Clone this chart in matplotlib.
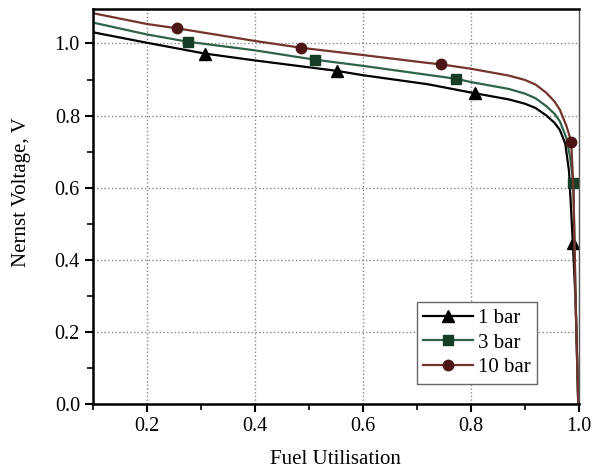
import matplotlib
matplotlib.use("Agg")
import matplotlib.pyplot as plt
from matplotlib.ticker import MultipleLocator

plt.rcParams["font.family"] = ["Liberation Serif", "DejaVu Serif"]

# Nernst voltage vs fuel utilisation
u_1bar = [0.10, 0.20, 0.307, 0.40, 0.552, 0.60, 0.72, 0.807, 0.87, 0.90, 0.92,
          0.94, 0.955, 0.965, 0.975, 0.982, 0.989, 0.994, 0.999]
v_1bar = [1.031, 1.002, 0.972, 0.953, 0.924, 0.912, 0.887, 0.862, 0.845, 0.833,
          0.821, 0.800, 0.780, 0.760, 0.722, 0.645, 0.447, 0.290, 0.0]
mark_1bar = [2, 4, 7, 16]

u_3bar = [0.10, 0.20, 0.275, 0.40, 0.511, 0.60, 0.72, 0.773, 0.80, 0.87, 0.90,
          0.92, 0.94, 0.955, 0.965, 0.977, 0.984, 0.990, 0.994, 0.999]
v_3bar = [1.058, 1.025, 1.005, 0.981, 0.955, 0.938, 0.913, 0.902, 0.893, 0.874,
          0.861, 0.848, 0.826, 0.805, 0.784, 0.738, 0.685, 0.613, 0.300, 0.0]
mark_3bar = [2, 4, 7, 17]

u_10bar = [0.10, 0.20, 0.256, 0.40, 0.486, 0.60, 0.72, 0.745, 0.80, 0.87, 0.90,
           0.92, 0.94, 0.955, 0.965, 0.977, 0.986, 0.990, 0.994, 0.999]
v_10bar = [1.084, 1.054, 1.042, 1.007, 0.988, 0.968, 0.946, 0.942, 0.930, 0.911,
           0.899, 0.886, 0.863, 0.839, 0.816, 0.772, 0.728, 0.600, 0.300, 0.0]
mark_10bar = [2, 4, 7, 16]

fig = plt.figure(figsize=(5.93, 4.68), dpi=100)
ax = fig.add_axes([0.157, 0.137, 0.819, 0.844])

ax.plot(u_1bar, v_1bar, color="black", lw=1.6, marker="^", markersize=9,
        markevery=mark_1bar, markerfacecolor="black", markeredgecolor="black",
        label="1 bar")
ax.plot(u_3bar, v_3bar, color="#2e6349", lw=1.6, marker="s", markersize=7,
        markevery=mark_3bar, markerfacecolor="#163d26", markeredgecolor="#163d26",
        label="3 bar")
ax.plot(u_10bar, v_10bar, color="#74332e", lw=1.6, marker="o", markersize=7.5,
        markevery=mark_10bar, markerfacecolor="#4d1616", markeredgecolor="#4d1616",
        label="10 bar")

ax.set_xlim(0.1, 1.0)
ax.set_ylim(0.0, 1.096)
ax.set_xticks([0.2, 0.4, 0.6, 0.8, 1.0])
ax.xaxis.set_minor_locator(MultipleLocator(0.1))
ax.yaxis.set_major_locator(MultipleLocator(0.2))
ax.yaxis.set_minor_locator(MultipleLocator(0.1))
ax.xaxis.set_major_formatter(plt.FormatStrFormatter("%.1f"))
ax.yaxis.set_major_formatter(plt.FormatStrFormatter("%.1f"))

ax.tick_params(which="major", direction="out", length=6, width=1.5, labelsize=14.5)
ax.tick_params(which="minor", direction="out", length=4, width=1.2)
ax.tick_params(top=False, right=False, which="both")

ax.grid(True, which="major", linestyle=":", color="#888888", linewidth=1.0)

for side in ["left", "bottom", "top"]:
    ax.spines[side].set_linewidth(1.8)
ax.spines["right"].set_linewidth(1.0)
ax.spines["right"].set_color("#555555")

ax.set_xlabel("Fuel Utilisation", fontsize=15)
ax.set_ylabel("Nernst Voltage, V", fontsize=15)
ax.xaxis.set_label_coords(0.5, -0.118)
ax.yaxis.set_label_coords(-0.128, 0.537)

leg = ax.legend(loc="lower right", bbox_to_anchor=(0.913, 0.051), fontsize=15,
                fancybox=False, edgecolor="#666666", framealpha=1,
                handlelength=2.4, labelspacing=0.25, borderpad=0.3,
                handletextpad=0.2, borderaxespad=0)
leg.get_frame().set_linewidth(1.0)

fig.savefig("out.png", dpi=100)
